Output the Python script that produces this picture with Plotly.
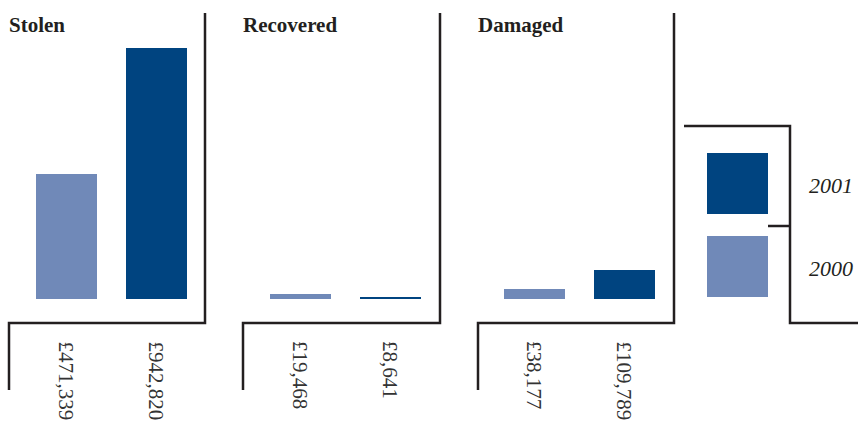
import plotly.graph_objects as go

# Values of vandalism / theft (pounds), by year
categories = ["Stolen", "Recovered", "Damaged"]
years = ["2000", "2001"]
values_2000 = [471339, 19468, 38177]
values_2001 = [942820, 8641, 109789]

COLOR_2000 = "#7089b8"
COLOR_2001 = "#004480"
INK = "#231f20"
SERIF = "Liberation Serif, Times New Roman, serif"

W, H = 858, 427


def px(x):
    return x / W


def py(y):
    return 1 - y / H


# Panel geometry in pixels: left frame edge, right frame edge, first bar centre
panels = [
    dict(left=9, right=205, c0=66),
    dict(left=243, right=440, c0=300),
    dict(left=478, right=674, c0=534),
]
BAR_GAP = 90  # distance between bar centres
BAR_W = 61
ZERO_Y, TOP_Y = 299, 48  # pixel rows of 0 and of the largest value

ymax = max(values_2000 + values_2001)

fig = go.Figure()
shapes = []
annotations = []

for i, (name, p) in enumerate(zip(categories, panels)):
    ax = "" if i == 0 else str(i + 1)
    x0 = p["c0"] - BAR_GAP / 2
    x1 = x0 + 2 * BAR_GAP
    vals = [values_2000[i], values_2001[i]]
    fig.add_trace(go.Bar(
        x=years, y=vals,
        marker=dict(color=[COLOR_2000, COLOR_2001], line=dict(width=0)),
        width=BAR_W / BAR_GAP,
        xaxis="x" + ax, yaxis="y" + ax,
        showlegend=False, hoverinfo="x+y",
    ))
    fig.layout["xaxis" + ax] = dict(
        domain=[px(x0), px(x1)], range=[-0.5, 1.5], type="category",
        visible=False, anchor="y" + ax, fixedrange=True,
    )
    fig.layout["yaxis" + ax] = dict(
        domain=[py(ZERO_Y), py(TOP_Y)], range=[0, ymax],
        visible=False, anchor="x" + ax, fixedrange=True,
    )

    # Frame: right rule, base rule, and drop to the labels
    L, R = p["left"], p["right"]
    shapes.append(dict(
        type="path", xref="paper", yref="paper",
        path=(f"M {px(R)},{py(13)} L {px(R)},{py(323)} "
              f"L {px(L)},{py(323)} L {px(L)},{py(390)}"),
        line=dict(color=INK, width=2.5),
    ))

    # Panel title
    annotations.append(dict(
        text=f"<b>{name}</b>", x=px(L - 2.5), y=py(25), xref="paper", yref="paper",
        xanchor="left", yanchor="middle", showarrow=False,
        font=dict(family=SERIF, size=21, color=INK),
    ))

    # Value labels below each bar, rotated to read downward
    for j, v in enumerate(vals):
        annotations.append(dict(
            text=f"£{v:,}", x=j, y=py(339), xref="x" + ax, yref="paper",
            xanchor="center", yanchor="top", textangle=90, showarrow=False,
            font=dict(family=SERIF, size=21, color="#333333"),
        ))

# Key
shapes.append(dict(
    type="path", xref="paper", yref="paper",
    path=(f"M {px(684)},{py(126)} L {px(790)},{py(126)} "
          f"L {px(790)},{py(323)} L {px(858)},{py(323)}"),
    line=dict(color=INK, width=2.5),
))
shapes.append(dict(
    type="line", xref="paper", yref="paper",
    x0=px(768), x1=px(790), y0=py(226), y1=py(226),
    line=dict(color=INK, width=2.5),
))
key_items = [("2001", COLOR_2001, 153, 214, 185), ("2000", COLOR_2000, 236, 297, 268)]
for label, col, top, bot, ty in key_items:
    shapes.append(dict(
        type="rect", xref="paper", yref="paper",
        x0=px(707), x1=px(768), y0=py(bot), y1=py(top),
        fillcolor=col, line=dict(width=0),
    ))
    annotations.append(dict(
        text=f"<i>{label}</i>", x=px(807), y=py(ty), xref="paper", yref="paper",
        xanchor="left", yanchor="middle", showarrow=False,
        font=dict(family=SERIF, size=22, color=INK),
    ))

fig.update_layout(
    width=W, height=H,
    margin=dict(l=0, r=0, t=0, b=0),
    paper_bgcolor="white", plot_bgcolor="rgba(0,0,0,0)",
    bargap=0, shapes=shapes, annotations=annotations,
)

fig.write_html("out.html", config={"displayModeBar": False},
               post_script="document.body.style.margin='0';")
